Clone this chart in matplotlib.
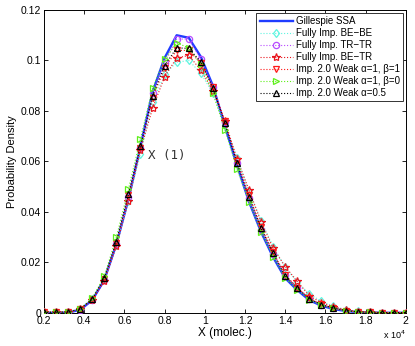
import matplotlib

matplotlib.use("Agg")
import matplotlib.pyplot as plt
from matplotlib.ticker import FuncFormatter, MultipleLocator

# population grid (molecules)
x_molec = [2000, 2600, 3200, 3800, 4400, 5000, 5600, 6200, 6800, 7400, 8000,
           8600, 9200, 9800, 10400, 11000, 11600, 12200, 12800, 13400, 14000,
           14600, 15200, 15800, 16400, 17000, 17600, 18200, 18800, 19400, 20000]

ssa = [0, 0, 0.0001, 0.0012, 0.0050, 0.0130, 0.0272, 0.0450, 0.0660, 0.0875,
       0.1010, 0.1100, 0.1090, 0.1015, 0.0900, 0.0740, 0.0585, 0.0440, 0.0320,
       0.0220, 0.0137, 0.0090, 0.0050, 0.0028, 0.0015, 0.0007, 0.0003, 0.0001,
       0, 0, 0]
be_be = [0.0002, 0.0002, 0.0004, 0.0016, 0.0056, 0.0135, 0.0270, 0.0445, 0.0630,
         0.0835, 0.0945, 0.0993, 0.1000, 0.0950, 0.0870, 0.0745, 0.0615, 0.0480,
         0.0365, 0.0262, 0.0180, 0.0122, 0.0075, 0.0045, 0.0026, 0.0013, 0.0006,
         0.0003, 0.0001, 0.0001, 0.0001]
tr_tr = [0.0001, 0.0001, 0.0002, 0.0013, 0.0050, 0.0128, 0.0272, 0.0460, 0.0655,
         0.0870, 0.0990, 0.1085, 0.1085, 0.1005, 0.0895, 0.0755, 0.0595, 0.0455,
         0.0330, 0.0232, 0.0148, 0.0098, 0.0056, 0.0032, 0.0018, 0.0008, 0.0004,
         0.0002, 0.0001, 0.0001, 0.0001]
be_tr = [0.0002, 0.0002, 0.0003, 0.0015, 0.0050, 0.0125, 0.0265, 0.0445, 0.0645,
         0.0810, 0.0936, 0.1010, 0.1020, 0.0962, 0.0880, 0.0760, 0.0610, 0.0487,
         0.0360, 0.0256, 0.0183, 0.0124, 0.0067, 0.0040, 0.0024, 0.0012, 0.0005,
         0.0003, 0.0001, 0.0001, 0.0001]
weak_a1_b1 = [0.0002, 0.0002, 0.0003, 0.0015, 0.0053, 0.0134, 0.0278, 0.0465,
              0.0655, 0.0850, 0.0970, 0.1040, 0.1040, 0.0990, 0.0895, 0.0760,
              0.0600, 0.0465, 0.0340, 0.0240, 0.0150, 0.0100, 0.0058, 0.0033,
              0.0019, 0.0009, 0.0004, 0.0002, 0.0001, 0.0001, 0.0001]
weak_a1_b0 = [0.0002, 0.0002, 0.0003, 0.0016, 0.0058, 0.0145, 0.0300, 0.0490,
              0.0690, 0.0890, 0.1005, 0.1070, 0.1050, 0.0985, 0.0870, 0.0725,
              0.0570, 0.0440, 0.0320, 0.0222, 0.0138, 0.0092, 0.0052, 0.0030,
              0.0017, 0.0008, 0.0003, 0.0002, 0.0001, 0.0001, 0.0001]
weak_a05 = [0.0002, 0.0002, 0.0003, 0.0015, 0.0054, 0.0137, 0.0282, 0.0470,
            0.0660, 0.0860, 0.0980, 0.1050, 0.1048, 0.0995, 0.0890, 0.0751,
            0.0593, 0.0460, 0.0335, 0.0236, 0.0146, 0.0098, 0.0056, 0.0032,
            0.0019, 0.0009, 0.0004, 0.0002, 0.0001, 0.0001, 0.0001]

plt.rcParams["font.family"] = ["Liberation Sans", "DejaVu Sans"]
plt.rcParams["font.size"] = 7

fig = plt.figure(figsize=(4.15, 3.46), dpi=100)
ax = fig.add_axes([0.106, 0.096, 0.872, 0.875])

ax.plot(x_molec, ssa, color="#1f3cff", lw=1.7, label="Gillespie SSA", zorder=3)

series = [
    (be_be, "d", "#5ff5e0", 4.5, "Fully Imp. BE\u2212BE"),
    (tr_tr, "o", "#b84cff", 4.5, "Fully Imp. TR\u2212TR"),
    (be_tr, "*", "#e8141c", 6.0, "Fully Imp. BE\u2212TR"),
    (weak_a1_b1, "v", "#ff1a1a", 4.5, "Imp. 2.0 Weak \u03b1=1, \u03b2=1"),
    (weak_a1_b0, ">", "#5ef01a", 4.5, "Imp. 2.0 Weak \u03b1=1, \u03b2=0"),
    (weak_a05, "^", "black", 4.5, "Imp. 2.0 Weak \u03b1=0.5"),
]
for ys, mk, col, ms, lab in series:
    ax.plot(x_molec, ys, linestyle=":", lw=0.8, color=col, marker=mk,
            markersize=ms, markerfacecolor="none", markeredgecolor=col,
            markeredgewidth=0.9, label=lab, zorder=4)

ax.text(7150, 0.0625, "X (1)", fontsize=9, color="#333333",
        family="DejaVu Sans Mono", va="center")

ax.set_xlim(2000, 20000)
ax.set_ylim(0, 0.12)
ax.xaxis.set_major_locator(MultipleLocator(2000))
ax.yaxis.set_major_locator(MultipleLocator(0.02))
ax.xaxis.set_major_formatter(FuncFormatter(lambda v, p: "%g" % (v / 1e4)))
ax.yaxis.set_major_formatter(FuncFormatter(lambda v, p: "%g" % round(v, 2)))
ax.tick_params(direction="in", top=True, right=True, length=3, width=0.6,
               labelsize=7.5, pad=2)
for s in ax.spines.values():
    s.set_linewidth(0.7)

ax.set_xlabel("X (molec.)", fontsize=8.5, labelpad=1)
ax.set_ylabel("Probability Density", fontsize=8, labelpad=3)
ax.text(1.0, -0.073, "x 10$^{4}$", transform=ax.transAxes, ha="right",
        va="center", fontsize=6.5)

leg = ax.legend(loc="upper right", fontsize=7, handlelength=3.4,
                labelspacing=0.2, borderpad=0.35, handletextpad=0.3,
                fancybox=False, framealpha=1, borderaxespad=0.3)
leg.get_frame().set_edgecolor("#333333")
leg.get_frame().set_linewidth(0.7)

fig.savefig("out.png", dpi=100)
